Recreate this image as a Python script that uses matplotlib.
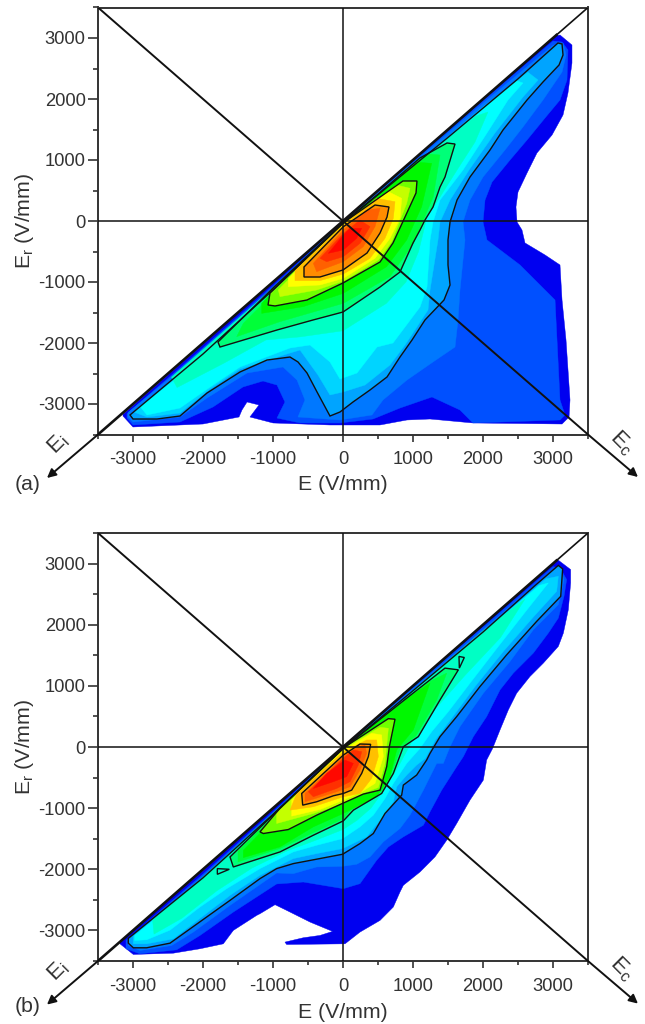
from matplotlib import pyplot as plt
from matplotlib.patches import Polygon
import numpy as np

plt.rcParams["font.family"] = ["Liberation Sans", "DejaVu Sans"]
plt.rcParams["mathtext.fontset"] = "custom"
plt.rcParams["mathtext.rm"] = "Liberation Sans"
plt.rcParams["axes.unicode_minus"] = False

tick_major = [-3000, -2000, -1000, 0, 1000, 2000, 3000]
tick_minor = [-2500, -1500, -500, 500, 1500, 2500, 3500, -3500]

band_colors = ["#0000f0", "#0050ff", "#0078ff", "#00a4ff", "#00d4ff", "#00ffff", "#00ffc4",
               "#00ff78", "#00ff38", "#00f800", "#70ff00", "#c4ff00", "#ffff00", "#ffc000",
               "#ff8c00", "#ff6000", "#ff3000", "#ff0800"]
line_bands = [3, 7, 10, 14]

# panel (a), contour levels from the outside in (E, Er in V/mm)
a_l1 = [(-3143,-3170),(-2000,-2020),(0,-8),(3050,3035),(3100,3049),(3271,2885),(3271,2590),(3214,2098),(3143,1738),(2986,1410),(2771,1115),(2629,787),(2500,475),(2471,230),(2486,-16),(2557,-148),(2600,-360),(2886,-557),(3100,-721),(3129,-1295),(3186,-1951),(3243,-2934),(3229,-3213),(3129,-3328),(1857,-3311),(1243,-3246),(914,-3262),(529,-3344),(-43,-3344),(-186,-3344),(-1000,-3311),(-1329,-3213),(-1200,-3016),(-1371,-2967),(-1443,-3098),(-1486,-3213),(-2000,-3328),(-3000,-3377),(-3143,-3197)]
a_l2 = [(-3086,-3160),(-2000,-2080),(-1000,-1060),(0,-20),(1000,980),(2000,1970),(3000,2950),(3129,2934),(3214,2803),(3200,2311),(3100,1984),(2886,1689),(2629,1328),(2386,1000),(2129,639),(2029,344),(2000,-16),(2057,-311),(2529,-721),(3029,-1295),(3100,-2934),(3171,-3180),(3100,-3262),(1857,-3311),(1671,-3098),(1271,-2885),(814,-3066),(429,-3246),(-43,-3311),(-186,-3311),(-614,-3311),(-943,-3230),(-829,-2967),(-943,-2689),(-1143,-2623),(-1429,-2721),(-1857,-3049),(-2329,-3295),(-3000,-3344),(-3086,-3230)]
a_l3 = [(-3071,-3140),(-2000,-2130),(-1000,-1090),(0,-30),(1000,950),(2000,1930),(3000,2880),(3143,2918),(3186,2721),(3129,2443),(2857,1984),(2571,1541),(2314,1164),(2000,721),(1814,344),(1714,-16),(1743,-311),(1671,-1131),(1643,-1623),(1600,-2066),(1286,-2311),(914,-2607),(571,-2934),(414,-3180),(-43,-3262),(-643,-3213),(-543,-2934),(-657,-2607),(-857,-2393),(-1371,-2492),(-1943,-2902),(-2329,-3213),(-3000,-3295),(-3071,-3213)]
a_l4 = [(3071,2918),(3129,2902),(3143,2721),(3086,2557),(2857,2279),(2629,1984),(2286,1492),(2100,1164),(1814,721),(1629,344),(1529,-16),(1500,-311),(1500,-721),(1529,-1049),(1443,-1295),(1171,-1623),(986,-1951),(814,-2230),(629,-2557),(386,-2770),(143,-2967),(-43,-3131),(-186,-3197),(-371,-2803),(-514,-2492),(-643,-2311),(-757,-2230),(-1086,-2279),(-1471,-2475),(-1943,-2820),(-2329,-3197),(-2657,-3246),(-3000,-3246),(-3043,-3180),(-2000,-2180),(-1000,-1130),(0,-40),(500,430),(1500,1370),(2500,2330)]
a_l5 = [(-2990,-3130),(-2000,-2190),(-1000,-1150),(0,-35),(1000,890),(2000,1870),(2640,2440),(2786,2311),(2571,2033),(2171,1443),(1800,836),(1529,344),(1386,-16),(1357,-311),(1243,-1131),(1214,-1459),(886,-2033),(671,-2361),(314,-2689),(0,-2803),(-186,-2852),(-357,-2525),(-614,-2115),(-757,-2164),(-1471,-2426),(-1900,-2754),(-2329,-3148),(-2800,-3213)]
a_l6 = [(-2900,-3040),(-2000,-2250),(-1000,-1180),(0,-30),(1000,870),(2000,1850),(2480,2300),(2571,2262),(2357,1984),(2057,1443),(1714,836),(1386,344),(1286,-16),(1243,-311),(1200,-1082),(1100,-1410),(714,-2000),(486,-2066),(200,-2492),(-43,-2590),(-186,-2311),(-471,-2033),(-757,-2082),(-1471,-2393),(-1857,-2689),(-2329,-3066),(-2800,-3180)]
a_l7 = [(2071,1787),(1886,1295),(1629,836),(1386,393),(1200,66),(1080,-500),(900,-1000),(620,-1350),(0,-1800),(-614,-1900),(-1100,-1950),(-1700,-2330),(-2371,-2730),(-2450,-2560),(-1000,-1100),(0,-30),(1000,900),(1900,1720)]
a_l8 = [(1600,1262),(1486,1279),(1100,1033),(500,440),(0,-30),(-1000,-1100),(-1786,-1984),(-1757,-2066),(-943,-1787),(-429,-1623),(0,-1492),(529,-1082),(814,-836),(1000,-361),(1100,-148),(1171,16),(1286,230),(1386,557),(1457,721)]
a_l9 = [(1386,1082),(1200,1100),(1005,920),(5,-25),(-1424,-1678),(-1519,-1896),(-900,-1650),(5,-1350),(671,-913),(1005,-366),(1290,399)]
a_l10 = [(1267,945),(1100,960),(957,860),(5,-25),(-1162,-1350),(-1162,-1514),(-567,-1404),(5,-1186),(624,-749),(910,-311),(1124,235)]
a_l11 = [(1057,656),(857,656),(0,-33),(-1043,-1180),(-1071,-1377),(-971,-1393),(-514,-1295),(0,-1016),(529,-672),(714,-361),(886,66),(1043,459)]
a_l12 = [(957,536),(767,590),(5,-38),(-924,-1131),(-900,-1240),(-376,-1131),(5,-984),(505,-639),(695,-339),(910,290)]
a_l13 = [(838,372),(648,481),(5,-38),(-781,-940),(-781,-1077),(-329,-1049),(5,-940),(457,-612),(671,-284),(814,44)]
a_l14 = [(743,317),(481,372),(5,-66),(-686,-803),(-686,-978),(-329,-978),(5,-869),(386,-612),(600,-284),(719,44)]
a_l15 = [(657,230),(457,262),(0,-98),(-557,-754),(-557,-918),(-329,-918),(0,-803),(343,-525),(529,-197),(629,66)]
a_l16 = [(529,208),(338,180),(5,-148),(-424,-694),(-376,-831),(5,-667),(290,-421),(457,-93)]
a_l17 = [(243,16),(5,-202),(-329,-612),(-233,-667),(5,-585),(243,-366),(386,-93)]
a_l18 = [(100,-120),(5,-230),(-210,-530),(5,-475),(195,-284),(267,-120)]

# panel (b)
b_l1 = [(-3186,-3190),(-2000,-2020),(0,-8),(3040,3030),(3076,3055),(3252,2902),(3252,2683),(3219,2246),(3148,1863),(3076,1645),(2862,1372),(2671,1153),(2481,880),(2362,607),(2243,279),(2138,-22),(2052,-213),(2005,-541),(1814,-869),(1624,-1251),(1481,-1525),(1314,-1798),(1100,-2044),(862,-2262),(814,-2372),(719,-2617),(529,-2836),(243,-3027),(29,-3219),(-805,-3230),(-829,-3191),(-567,-3120),(-329,-3082),(-148,-3016),(-471,-2863),(-805,-2672),(-971,-2579),(-1186,-2727),(-1233,-2754),(-1567,-3000),(-1710,-3219),(-2043,-3300),(-2424,-3372),(-2995,-3393),(-3186,-3219)]
b_l2 = [(-3100,-3160),(-2000,-2080),(-1000,-1060),(0,-20),(1000,980),(2000,1960),(3000,2950),(3100,2929),(3195,2738),(3157,2464),(3076,2109),(2933,1863),(2719,1536),(2433,1208),(2243,934),(2052,497),(1862,169),(1719,-158),(1624,-322),(1410,-705),(1243,-1060),(1148,-1279),(862,-1470),(648,-1634),(481,-1852),(243,-2235),(5,-2317),(-567,-2208),(-948,-2240),(-1567,-2700),(-2043,-3082),(-2376,-3317),(-2900,-3382),(-3100,-3300)]
b_l3 = [(-3067,-3150),(-2000,-2110),(-1000,-1080),(0,-25),(1000,950),(2000,1920),(3000,2900),(3110,2900),(3157,2738),(3076,2328),(2719,1918),(2386,1399),(2005,880),(1671,333),(1529,5),(1433,-268),(1338,-268),(1148,-705),(957,-1115),(814,-1333),(576,-1552),(386,-1798),(195,-1918),(-5,-1951),(-376,-1962),(-710,-2071),(-948,-2060),(-1614,-2590),(-2138,-3027),(-2448,-3246),(-2900,-3328),(-3067,-3246)]
b_l4 = [(3076,2970),(3138,2913),(3110,2464),(2767,2055),(2338,1508),(1957,989),(1624,497),(1386,169),(1243,-104),(1195,-213),(1052,-459),(862,-623),(838,-787),(600,-1087),(433,-1415),(243,-1579),(-5,-1754),(-710,-1907),(-948,-1989),(-1186,-2153),(-1614,-2508),(-2471,-3208),(-2805,-3284),(-2995,-3284),(-3067,-3208),(-3067,-3130),(-2000,-2140),(-1000,-1100),(0,-30),(1000,920),(2000,1880),(2743,2640)]
b_l5 = [(-2995,-3100),(-2000,-2160),(-1000,-1120),(0,-30),(1000,910),(2000,1870),(2900,2750),(3076,2792),(3052,2546),(2719,2126),(2290,1563),(1886,989),(1552,470),(1319,115),(1176,-186),(1052,-295),(910,-459),(767,-650),(719,-896),(529,-1197),(338,-1470),(-5,-1661),(-376,-1743),(-710,-1825),(-1186,-2098),(-1614,-2426),(-2424,-3137),(-2805,-3219),(-2995,-3219)]
b_l6 = [(-2976,-3080),(-2000,-2170),(-1000,-1120),(0,-30),(1000,900),(2000,1860),(2800,2640),(2933,2683),(2648,2273),(2219,1645),(1814,1044),(1505,579),(1267,251),(1100,-22),(910,-268),(719,-596),(600,-842),(433,-1115),(243,-1306),(-5,-1497),(-376,-1607),(-710,-1716),(-1186,-1989),(-1662,-2317),(-2043,-2617),(-2471,-2995),(-2805,-3153),(-2976,-3164)]
b_l7 = [(2600,2420),(2250,1790),(1750,1180),(1300,600),(1000,120),(800,-300),(620,-650),(400,-1000),(200,-1200),(0,-1350),(-400,-1530),(-800,-1700),(-1300,-1980),(-1800,-2350),(-2300,-2800),(-2700,-3060),(-2720,-2830),(-2000,-2130),(-1000,-1090),(0,-30),(1000,920),(2000,1900)]
b_l8 = [(1648,1262),(1457,1290),(1000,880),(0,-25),(-1000,-1110),(-1614,-1798),(-1567,-1962),(-900,-1716),(-424,-1443),(5,-1208),(148,-1033),(552,-760),(719,-432),(862,5),(1076,169),(1386,770)]
b_l9 = [(1481,1208),(1219,1060),(0,-22),(-1500,-1700),(-1500,-1880),(-900,-1660),(-424,-1400),(5,-1170),(148,-980),(552,-720),(690,-432),(830,5),(1040,180),(1340,770)]
b_l10 = [(1243,1044),(957,830),(0,-22),(-1424,-1689),(-1424,-1809),(-900,-1634),(-424,-1306),(5,-1087),(481,-814),(671,-486),(767,-49),(1005,279)]
b_l11 = [(743,454),(648,464),(0,-20),(-900,-1000),(-1186,-1388),(-1138,-1415),(-781,-1350),(-376,-1115),(-114,-978),(290,-770),(529,-705),(624,-322),(662,5)]
b_l12 = [(648,306),(529,322),(5,-22),(-948,-1087),(-948,-1251),(-424,-1087),(5,-923),(290,-754),(505,-661),(600,-268)]
b_l13 = [(552,197),(410,224),(5,-50),(-733,-869),(-733,-1131),(-329,-1022),(5,-869),(267,-732),(457,-596),(576,-158)]
b_l14 = [(481,115),(338,115),(5,-77),(-662,-760),(-757,-1033),(-424,-978),(5,-814),(243,-760),(410,-514),(505,-158)]
b_l15 = [(395,44),(243,49),(5,-131),(-590,-760),(-576,-951),(-376,-896),(-138,-798),(5,-760),(124,-705),(267,-432),(362,-158)]
b_l16 = [(314,33),(219,5),(5,-158),(-543,-760),(-543,-896),(-90,-732),(100,-650),(243,-377),(338,-104)]
b_l17 = [(148,-49),(5,-186),(-495,-732),(-424,-814),(-90,-678),(100,-568),(219,-295),(267,-77)]
b_l18 = [(26,-213),(-233,-432),(-424,-678),(-138,-568),(52,-486),(148,-268)]
b_island1 = [(-1795,-1989),(-1795,-2082),(-1624,-2000)]
b_island2 = [(1657,1481),(1733,1464),(1662,1290)]

a_bands = [a_l1, a_l2, a_l3, a_l4, a_l5, a_l6, a_l7, a_l8, a_l9, a_l10, a_l11, a_l12, a_l13, a_l14, a_l15, a_l16, a_l17, a_l18]
b_bands = [b_l1, b_l2, b_l3, b_l4, b_l5, b_l6, b_l7, b_l8, b_l9, b_l10, b_l11, b_l12, b_l13, b_l14, b_l15, b_l16, b_l17, b_l18]

W, H = 645, 1024
dark = "#333333"
fig = plt.figure(figsize=(W / 100, H / 100), dpi=100)


def draw_panel(top, bottom, bands, islands, letter, letter_y, xlabel_y, ylabel_y):
    ax = fig.add_axes([98 / W, 1 - bottom / H, 490 / W, (bottom - top) / H])
    ax.set_xlim(-3500, 3500)
    ax.set_ylim(-3500, 3500)

    for pts, c in zip(bands, band_colors):
        ax.add_patch(Polygon(np.array(pts), closed=True, fc=c, ec=c, lw=0.3, zorder=2))
    for i in line_bands:
        ax.add_patch(Polygon(np.array(bands[i]), closed=True, fc="none", ec="#111111", lw=1.0, zorder=3))
    for pts in islands:
        ax.add_patch(Polygon(np.array(pts), closed=True, fc="none", ec="#111111", lw=1.0, zorder=3))

    ax.plot([-3500, 3500], [0, 0], color="#111111", lw=1.1, zorder=4)
    ax.plot([0, 0], [-3500, 3500], color="#111111", lw=1.1, zorder=4)
    ax.plot([-3500, 3050], [-3500, 3050], color="#111111", lw=1.9, zorder=4)
    ax.plot([3050, 3500], [3050, 3500], color="#111111", lw=1.2, zorder=4)
    ax.plot([-3500, 3500], [3500, -3500], color="#111111", lw=1.4, zorder=4)

    # axes of the rotated frame run past the box
    for tip in [(-4229, -4213), (4214, -4197)]:
        start = (-3500, -3500) if tip[0] < 0 else (3500, -3500)
        ax.annotate("", xy=tip, xytext=start, annotation_clip=False,
                    arrowprops=dict(arrowstyle="-|>", color="#111111", lw=1.4,
                                    mutation_scale=13, shrinkA=0, shrinkB=0))

    ax.set_xticks(tick_major)
    ax.set_yticks(tick_major)
    ax.set_xticks(tick_minor, minor=True)
    ax.set_yticks(tick_minor, minor=True)
    ax.tick_params(axis="x", which="major", length=5, width=1.2, color=dark, labelcolor=dark, labelsize=13.2, pad=7)
    ax.tick_params(axis="y", which="major", length=7, width=1.2, color=dark, labelcolor=dark, labelsize=13.2, pad=2)
    ax.tick_params(axis="x", which="minor", length=3, width=1.2, color=dark)
    ax.tick_params(axis="y", which="minor", length=3.5, width=1.2, color=dark)
    for s in ax.spines.values():
        s.set_linewidth(1.4)
        s.set_color(dark)

    fig.text(343 / W, 1 - xlabel_y / H, "E (V/mm)", fontsize=15.3, color=dark, ha="center", va="center")
    fig.text(25 / W, 1 - ylabel_y / H, r"E$_{\mathrm{r}}$ (V/mm)", fontsize=15.3, color=dark,
             ha="center", va="center", rotation=90)
    fig.text(28 / W, 1 - letter_y / H, letter, fontsize=15.3, color=dark, ha="center", va="center")
    fig.text(58 / W, 1 - (bottom + 10) / H, r"E$_{\mathrm{i}}$", fontsize=16, color=dark,
             ha="center", va="center", rotation=45)
    fig.text(622 / W, 1 - (bottom + 8) / H, r"E$_{\mathrm{c}}$", fontsize=16, color=dark,
             ha="center", va="center", rotation=-45)


draw_panel(7.5, 434.5, a_bands, [], "(a)", 485, 485, 221)
draw_panel(533, 961, b_bands, [b_island1, b_island2], "(b)", 1007, 1012, 747)

plt.savefig("out.png", dpi=100)
